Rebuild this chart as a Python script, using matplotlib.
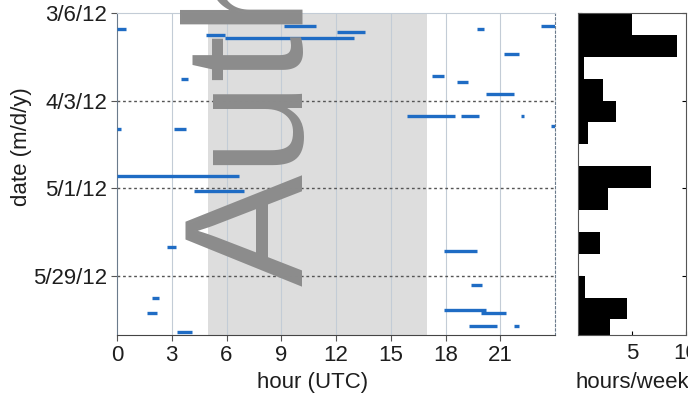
import matplotlib
matplotlib.use('Agg')
import matplotlib.pyplot as plt
import matplotlib.dates as mdates
from datetime import datetime

plt.rcParams['font.family'] = ['Liberation Sans', 'DejaVu Sans']

# observing sessions: date, start hour, end hour (UTC)
session_dates = ['2012-03-10', '2012-03-10', '2012-03-11', '2012-03-11', '2012-03-12',
                 '2012-03-13', '2012-03-14', '2012-03-19', '2012-03-26', '2012-03-27',
                 '2012-03-28', '2012-04-01', '2012-04-08', '2012-04-08', '2012-04-08',
                 '2012-04-11', '2012-04-12', '2012-04-12', '2012-04-27', '2012-05-02',
                 '2012-05-20', '2012-05-21', '2012-06-01', '2012-06-05', '2012-06-09',
                 '2012-06-10', '2012-06-10', '2012-06-14', '2012-06-14', '2012-06-16']
start_hours = [9.15, 23.2, 0.0, 19.7, 12.05,
               4.9, 5.9, 21.2, 17.25, 3.5,
               18.6, 20.2, 15.9, 18.85, 22.15,
               23.75, 0.0, 3.1, 0.0, 4.2,
               2.75, 17.9, 19.4, 1.9, 17.9,
               1.65, 19.95, 19.3, 21.75, 3.3]
end_hours = [10.9, 24.0, 0.5, 20.1, 13.6,
             5.9, 13.0, 22.0, 17.9, 3.9,
             19.2, 21.75, 18.5, 19.8, 22.3,
             24.0, 0.2, 3.8, 6.7, 6.95,
             3.25, 19.7, 20.0, 2.3, 20.2,
             2.2, 21.3, 20.8, 22.0, 4.1]

# weekly totals for the side histogram (hours/week), weeks starting 3/6/12
week_start = '2012-03-06'
hours_per_week = [5.0, 9.2, 0.6, 2.3, 3.5, 0.9, 0.0, 6.8, 2.8, 0.0, 2.0, 0.0, 0.7, 4.5, 3.0]

date_ticks = ['2012-03-06', '2012-04-03', '2012-05-01', '2012-05-29']
date_tick_labels = ['3/6/12', '4/3/12', '5/1/12', '5/29/12']
hour_ticks = [0, 3, 6, 9, 12, 15, 18, 21]
day_start, day_end = 5, 17
y_first, y_last = '2012-03-06', '2012-06-17'

def dnum(s):
    return mdates.date2num(datetime.strptime(s, '%Y-%m-%d'))

txt = '#1e1e1e'
fs = 16

fig = plt.figure(figsize=(6.88, 3.96), dpi=100)
ax = fig.add_axes([0.170, 0.154, 0.637, 0.813])
axh = fig.add_axes([0.840, 0.154, 0.157, 0.813], sharey=ax)

# daytime shading
ax.axvspan(day_start, day_end, color='#dddddd', zorder=0, lw=0)

for h in hour_ticks[1:]:
    ax.axvline(h, color='#c3ccd6', lw=0.8, zorder=1)
for d in date_ticks[1:]:
    ax.axhline(dnum(d), color='#555555', lw=1.0, ls=(0, (2, 2)), zorder=1)

ax.hlines([dnum(d) for d in session_dates], start_hours, end_hours,
          color='#1f6cc4', lw=2.4, zorder=3)

ax.set_xlim(0, 24)
ax.set_ylim(dnum(y_last), dnum(y_first))
ax.set_xticks(hour_ticks)
ax.set_xticklabels([str(h) for h in hour_ticks], fontsize=fs, color=txt)
ax.set_yticks([dnum(d) for d in date_ticks])
ax.set_yticklabels(date_tick_labels, fontsize=fs, color=txt)
ax.tick_params(direction='out', length=4, color='#555555', pad=3)
ax.set_xlabel('hour (UTC)', fontsize=fs, color=txt)
ax.xaxis.set_label_coords(0.447, -0.115)
ax.set_ylabel('date (m/d/y)', fontsize=fs, color=txt)
ax.yaxis.set_label_coords(-0.195, 0.585)
ax.spines['left'].set_color('#6b7b8c')
ax.spines['bottom'].set_color('#444444')
ax.spines['top'].set_color('#c3ccd6')
ax.spines['right'].set_color('#6b7b8c')
ax.spines['right'].set_linestyle((0, (2, 2)))

# weekly histogram
w0 = dnum(week_start)
bottoms = [w0 + 7 * i for i in range(len(hours_per_week))]
axh.barh(bottoms, hours_per_week, height=7, align='edge', color='black', lw=0)
axh.set_xlim(0, 10)
axh.set_xticks([5, 10])
axh.set_xticklabels(['5', '10'], fontsize=fs, color=txt)
axh.tick_params(axis='x', direction='in', length=3, pad=6)
axh.tick_params(axis='y', direction='in', length=3, labelleft=False, right=True)
axh.set_xlabel('hours/week', fontsize=fs, color=txt)
axh.xaxis.set_label_coords(0.5, -0.115)
for s in axh.spines.values():
    s.set_color('#555555')

# watermark
fig.text(303 / 688, 1 - 286 / 396, 'Author', rotation=90, rotation_mode='anchor',
         ha='left', va='baseline', fontsize=121, color='#8c8c8c')

fig.savefig('out.png', dpi=100)
